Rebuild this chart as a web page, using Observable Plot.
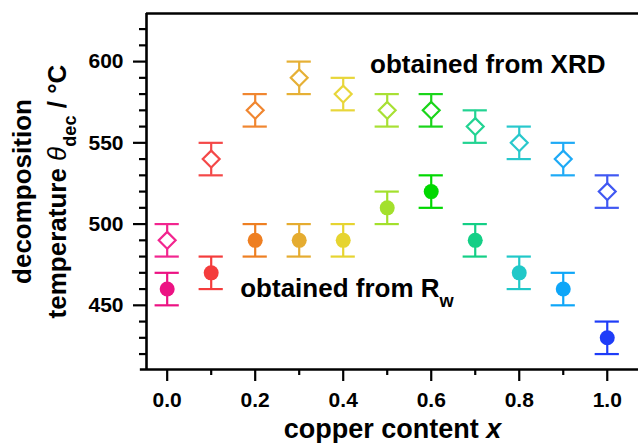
<!DOCTYPE html>
<html>
<head>
<meta charset="utf-8">
<script src="https://cdn.jsdelivr.net/npm/d3@7"></script>
<script src="https://cdn.jsdelivr.net/npm/@observablehq/plot@0.6"></script>
<style>
  html, body { margin: 0; padding: 0; background: #fff; }
  #chart svg text { font-weight: bold; }
</style>
</head>
<body>
<div id="chart"></div>
<script>
// ---- data ----
const copperContent = [0.0, 0.1, 0.2, 0.3, 0.4, 0.5, 0.6, 0.7, 0.8, 0.9, 1.0];
const tempXRD = [490, 540, 570, 590, 580, 570, 570, 560, 550, 540, 520];
const tempRw  = [460, 470, 490, 490, 490, 510, 520, 490, 470, 460, 430];
const errXRD  = [10, 10, 10, 10, 10, 10, 10, 10, 10, 10, 10];
const errRw   = [10, 10, 10, 10, 10, 10, 10, 10, 10, 10, 10];
const colorsXRD = ["#f2258f", "#f44848", "#f08630", "#e6b035", "#e8d63a", "#a8e034", "#1ad51a", "#22d392", "#28c8cc", "#1eaaf6", "#4058f2"];
const colorsRw  = ["#ec1283", "#f43c3c", "#ee7f22", "#e5ac30", "#e6d430", "#a3e02c", "#00d800", "#14cf86", "#20c8c8", "#0ea6f8", "#1e3cf8"];
const xTicksMajor = [0.0, 0.2, 0.4, 0.6, 0.8, 1.0];
const xTicksMinor = [0.1, 0.3, 0.5, 0.7, 0.9];
const yTicksMajor = [450, 500, 550, 600];
const yTicksMinor = [420, 430, 440, 460, 470, 480, 490, 510, 520, 530, 540, 560, 570, 580, 590, 610, 620];
const xDomain = [-0.047, 1.071];
const yDomain = [410.5, 629.6];
const labelXRD = "obtained from XRD";
const labelRw = "obtained from R";
const labelRwSub = "w";
const xTitle = "copper content x";
const yTitle1 = "decomposition";
const yTitle2 = "temperature θdec / °C";
const annotations = [
  {x: 0.461, y: 593, text: labelXRD},
  {x: 0.166, y: 455, text: labelRw + labelRwSub}
];

// ---- rows ----
const rows = [];
copperContent.forEach((x, i) => {
  rows.push({x, y: tempXRD[i], lo: tempXRD[i] - errXRD[i], hi: tempXRD[i] + errXRD[i], color: colorsXRD[i], kind: "XRD"});
  rows.push({x, y: tempRw[i], lo: tempRw[i] - errRw[i], hi: tempRw[i] + errRw[i], color: colorsRw[i], kind: "Rw"});
});
const capHalf = 0.0275;
const caps = rows.flatMap(d => [
  {x1: d.x - capHalf, x2: d.x + capHalf, y: d.lo, color: d.color},
  {x1: d.x - capHalf, x2: d.x + capHalf, y: d.hi, color: d.color}
]);

const fontFam = "'Liberation Sans', Arial, sans-serif";

const chart = Plot.plot({
  width: 638,
  height: 443,
  marginLeft: 146,
  marginRight: 0,
  marginTop: 13,
  marginBottom: 74,
  style: {fontFamily: fontFam, background: "#fff", color: "#000"},
  x: {domain: xDomain},
  y: {domain: yDomain},
  marks: [
    // minor ticks
    Plot.axisY({ticks: yTicksMinor, tickSize: 7, text: null, strokeWidth: 2.2, stroke: "#000"}),
    Plot.axisX({ticks: xTicksMinor, tickSize: 6, text: null, strokeWidth: 2.2, stroke: "#000"}),
    // major ticks with labels
    Plot.axisY({ticks: yTicksMajor, tickSize: 13, tickPadding: 10, strokeWidth: 2.2, stroke: "#000",
      fontSize: 21, tickFormat: d3.format("d"), label: null, fill: "#000"}),
    Plot.axisX({ticks: xTicksMajor, tickSize: 12, tickPadding: 11, strokeWidth: 2.2, stroke: "#000",
      fontSize: 21, tickFormat: d3.format(".1f"), label: null, fill: "#000"}),
    // frame (left, bottom, top)
    Plot.ruleX([xDomain[0]], {stroke: "#000", strokeWidth: 2.6}),
    Plot.ruleY([yDomain[0]], {stroke: "#000", strokeWidth: 2.6, x1: xDomain[0] - 0.014, x2: xDomain[1]}),
    Plot.ruleY([yDomain[1]], {stroke: "#000", strokeWidth: 2.6}),
    // error bars
    Plot.ruleX(rows, {x: "x", y1: "lo", y2: "hi", stroke: "color", strokeWidth: 2.2}),
    Plot.ruleY(caps, {x1: "x1", x2: "x2", y: "y", stroke: "color", strokeWidth: 2.2}),
    // markers
    Plot.dot(rows.filter(d => d.kind === "XRD"), {x: "x", y: "y", symbol: "diamond2", r: 7.6, stroke: "color", fill: "#fff", strokeWidth: 2.2}),
    Plot.dot(rows.filter(d => d.kind === "Rw"), {x: "x", y: "y", r: 7.5, fill: "color", stroke: "none"}),
    // annotations
    Plot.text(annotations, {x: "x", y: "y", text: "text", textAnchor: "start", lineAnchor: "bottom", fontSize: 26, fill: "#000"}),
    // axis titles
    Plot.text([xTitle], {frameAnchor: "bottom", dy: 60, textAnchor: "middle", lineAnchor: "middle", fontSize: 27, fill: "#000"}),
    Plot.text([yTitle1], {frameAnchor: "left", dx: -124, rotate: -90, textAnchor: "middle", lineAnchor: "middle", fontSize: 26, fill: "#000"}),
    Plot.text([yTitle2], {frameAnchor: "left", dx: -89, rotate: -90, textAnchor: "middle", lineAnchor: "middle", fontSize: 26, fill: "#000"})
  ]
});

// rich text formatting
const svg = d3.select(chart);
svg.selectAll("text").each(function() {
  const t = d3.select(this);
  const s = this.textContent;
  if (s === labelRw + labelRwSub) {
    t.text(null);
    t.append("tspan").text(labelRw);
    t.append("tspan").attr("baseline-shift", "sub").attr("font-size", "70%").text(labelRwSub);
  } else if (s === xTitle) {
    t.text(null);
    t.append("tspan").text("copper content ");
    t.append("tspan").attr("font-style", "italic").text("x");
  } else if (s === yTitle2) {
    t.text(null);
    t.append("tspan").text("temperature ");
    t.append("tspan").attr("font-style", "italic").attr("font-weight", "normal").text("θ");
    t.append("tspan").attr("baseline-shift", "sub").attr("font-size", "70%").text("dec");
    t.append("tspan").text(" / °C");
  }
});

document.getElementById("chart").appendChild(chart);
</script>
</body>
</html>
